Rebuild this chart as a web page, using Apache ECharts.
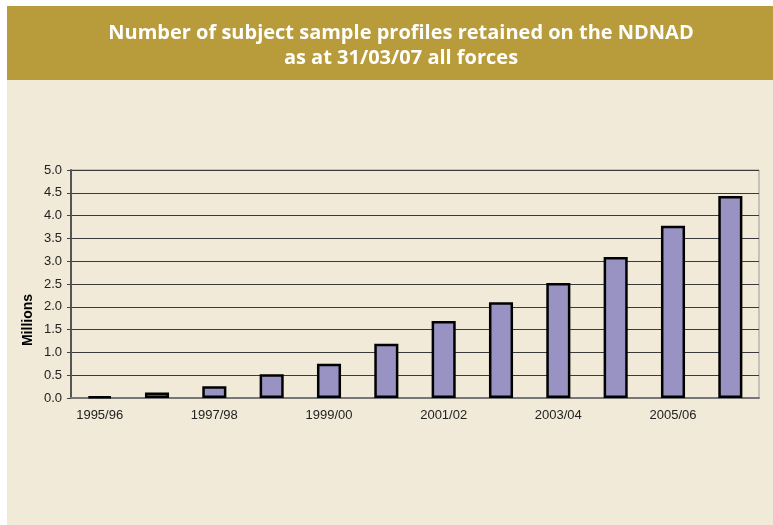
<!DOCTYPE html>
<html>
<head>
<meta charset="utf-8">
<script src="https://cdn.jsdelivr.net/npm/echarts@6/dist/echarts.min.js"></script>
<style>
* { margin: 0; padding: 0; }
body { background: #fff; }
</style>
</head>
<body>
<div id="main" style="width: 773px;height: 525px;"></div>
<script>
// 年份
var years = ['1995/96', '1996/97', '1997/98', '1998/99', '1999/00', '2000/01',
  '2001/02', '2002/03', '2003/04', '2004/05', '2005/06', '2006/07'];
// 样本数（百万）
var profiles = [0.03, 0.12, 0.26, 0.52, 0.75, 1.19, 1.69, 2.10, 2.52, 3.09, 3.78, 4.43];
var titleLines = ['Number of subject sample profiles retained on the NDNAD', 'as at 31/03/07 all forces'];

var titleFont = 'bold 20px "Open Sans", "Noto Sans", sans-serif';

var chart = echarts.init(document.getElementById('main'));
chart.setOption({
  backgroundColor: '#fff',
  animation: false,
  graphic: [
    { type: 'rect', z: -10, shape: { x: 7, y: 6, width: 766, height: 74 }, style: { fill: '#b89b3a' } },
    { type: 'rect', z: -10, shape: { x: 7, y: 80, width: 766, height: 445 }, style: { fill: '#f2ead8' } },
    // 标题（两行）
    { type: 'text', x: 401, y: 33, style: { text: titleLines[0], font: titleFont, fill: '#fff', align: 'center', verticalAlign: 'middle' } },
    { type: 'text', x: 401, y: 58, style: { text: titleLines[1], font: titleFont, fill: '#fff', align: 'center', verticalAlign: 'middle' } },
    {
      type: 'text', x: 28, y: 320, rotation: Math.PI / 2,
      style: { text: 'Millions', font: 'bold 14px "Liberation Sans", Arial', fill: '#000', align: 'center', verticalAlign: 'middle' }
    }
  ],
  grid: {
    left: 71,
    right: 14,
    top: 170,
    bottom: 127,
    show: true,
    borderColor: '#999',
    borderWidth: 1,
    backgroundColor: 'transparent'
  },
  xAxis: {
    type: 'category',
    data: years,
    boundaryGap: true,
    axisLine: { lineStyle: { color: '#777', width: 2 } },
    axisTick: { interval: 0, length: 5, lineStyle: { color: '#444' } },
    axisLabel: { interval: 1, margin: 11, color: '#222', fontSize: 13, fontFamily: '"Liberation Sans", Arial' }
  },
  yAxis: {
    type: 'value',
    min: 0,
    max: 5,
    interval: 0.5,
    axisLine: { show: true, lineStyle: { color: '#555', width: 2 } },
    axisTick: { show: true, length: 4, lineStyle: { color: '#444' } },
    axisLabel: {
      margin: 9, color: '#222', fontSize: 13, fontFamily: '"Liberation Sans", Arial',
      formatter: function (v) { return v.toFixed(1); }
    },
    splitLine: { lineStyle: { color: '#3a3a3a', width: 1 } }
  },
  series: [
    {
      type: 'bar',
      data: profiles,
      barWidth: '42%',
      itemStyle: { color: '#9893c3', borderColor: '#000', borderWidth: 2.5 }
    }
  ]
});
</script>
</body>
</html>
